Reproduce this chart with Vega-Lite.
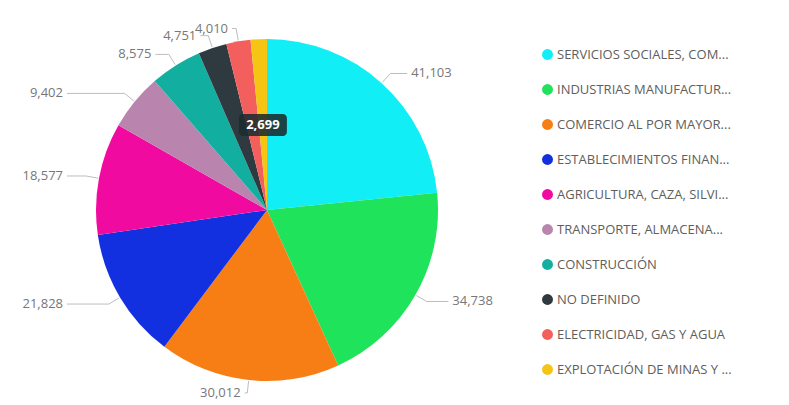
{
  "$schema": "https://vega.github.io/schema/vega-lite/v6.json",
  "width": 534,
  "height": 390,
  "padding": {"left": 0, "top": 15, "right": 255, "bottom": 0},
  "autosize": {"type": "none"},
  "background": "white",
  "config": {"view": {"stroke": null}},
  "data": {
    "values": [
      {"ord": 1, "cat": "SERVICIOS SOCIALES, COM...", "v": 41103},
      {"ord": 2, "cat": "INDUSTRIAS MANUFACTUR...", "v": 34738},
      {"ord": 3, "cat": "COMERCIO AL POR MAYOR...", "v": 30012},
      {"ord": 4, "cat": "ESTABLECIMIENTOS FINAN...", "v": 21828},
      {"ord": 5, "cat": "AGRICULTURA, CAZA, SILVI...", "v": 18577},
      {"ord": 6, "cat": "TRANSPORTE, ALMACENA...", "v": 9402},
      {"ord": 7, "cat": "CONSTRUCCIÓN", "v": 8575},
      {"ord": 8, "cat": "NO DEFINIDO", "v": 4751},
      {"ord": 9, "cat": "ELECTRICIDAD, GAS Y AGUA", "v": 4010},
      {"ord": 10, "cat": "EXPLOTACIÓN DE MINAS Y ...", "v": 2699}
    ]
  },
  "transform": [
    {"window": [{"op": "sum", "field": "v", "as": "cum"}], "sort": [{"field": "ord"}], "frame": [null, 0]},
    {"joinaggregate": [{"op": "sum", "field": "v", "as": "total"}]},
    {"calculate": "(datum.cum - datum.v / 2) / datum.total * 2 * PI", "as": "m"},
    {"calculate": "sin(datum.m)", "as": "s"},
    {"calculate": "cos(datum.m)", "as": "c"},
    {"calculate": "172 * datum.s", "as": "x1"},
    {"calculate": "172 * datum.c", "as": "y1"},
    {"calculate": "184 * datum.s", "as": "x2"},
    {"calculate": "184 * datum.c", "as": "y2"},
    {"calculate": "datum.s < -0.7 ? -200 : datum.x2 + 25 * datum.s", "as": "x3"},
    {"calculate": "datum.x3 + (datum.s > 0 ? 4 : -4)", "as": "xt"},
    {"calculate": "85 * datum.s", "as": "bx"},
    {"calculate": "85 * datum.c", "as": "by"},
    {"calculate": "datum.bx - 24", "as": "bx1"},
    {"calculate": "datum.bx + 24", "as": "bx2"},
    {"calculate": "datum.by - 11", "as": "by1"},
    {"calculate": "datum.by + 11", "as": "by2"}
  ],
  "layer": [
    {
      "mark": {"type": "arc", "radius": 171},
      "encoding": {
        "theta": {"field": "v", "type": "quantitative", "stack": true},
        "order": {"field": "ord", "type": "quantitative"},
        "color": {
          "field": "cat",
          "type": "nominal",
          "sort": {"field": "ord"},
          "scale": {
            "domain": ["SERVICIOS SOCIALES, COM...", "INDUSTRIAS MANUFACTUR...", "COMERCIO AL POR MAYOR...", "ESTABLECIMIENTOS FINAN...", "AGRICULTURA, CAZA, SILVI...", "TRANSPORTE, ALMACENA...", "CONSTRUCCIÓN", "NO DEFINIDO", "ELECTRICIDAD, GAS Y AGUA", "EXPLOTACIÓN DE MINAS Y ..."],
            "range": ["#12EEF5", "#1FE35A", "#F77E14", "#1230E0", "#F00A9F", "#B984AE", "#12AFA0", "#2E3A3F", "#F25F5C", "#F6C412"]
          },
          "legend": {
            "title": null,
            "orient": "none",
            "legendX": 541,
            "legendY": 33,
            "symbolType": "circle",
            "symbolSize": 120,
            "symbolStrokeWidth": 0,
            "symbolOpacity": 1,
            "labelFont": "Open Sans",
            "labelFontSize": 13,
            "labelColor": "#605E5C",
            "labelLimit": 300,
            "labelOffset": 3,
            "rowPadding": 21
          }
        }
      }
    },
    {
      "transform": [{"filter": "datum.ord < 10"}],
      "mark": {"type": "rule", "color": "#BDBDBD", "strokeWidth": 1},
      "encoding": {
        "x": {"field": "x1", "type": "quantitative", "scale": {"domain": [-267, 267], "nice": false, "zero": false}, "axis": null},
        "y": {"field": "y1", "type": "quantitative", "scale": {"domain": [-195, 195], "nice": false, "zero": false}, "axis": null},
        "x2": {"field": "x2"},
        "y2": {"field": "y2"}
      }
    },
    {
      "transform": [{"filter": "datum.ord < 10"}],
      "mark": {"type": "rule", "color": "#BDBDBD", "strokeWidth": 1},
      "encoding": {
        "x": {"field": "x2", "type": "quantitative"},
        "y": {"field": "y2", "type": "quantitative"},
        "x2": {"field": "x3"},
        "y2": {"field": "y2"}
      }
    },
    {
      "transform": [{"filter": "datum.ord < 10 && datum.s > 0"}],
      "mark": {"type": "text", "align": "left", "baseline": "middle", "font": "Open Sans", "fontSize": 13, "color": "#777777"},
      "encoding": {
        "x": {"field": "xt", "type": "quantitative"},
        "y": {"field": "y2", "type": "quantitative"},
        "text": {"field": "v", "type": "quantitative", "format": ","}
      }
    },
    {
      "transform": [{"filter": "datum.ord < 10 && datum.s <= 0"}],
      "mark": {"type": "text", "align": "right", "baseline": "middle", "font": "Open Sans", "fontSize": 13, "color": "#777777"},
      "encoding": {
        "x": {"field": "xt", "type": "quantitative"},
        "y": {"field": "y2", "type": "quantitative"},
        "text": {"field": "v", "type": "quantitative", "format": ","}
      }
    },
    {
      "transform": [{"filter": "datum.ord == 10"}],
      "mark": {"type": "rect", "color": "#1B2B2F", "opacity": 0.88, "cornerRadius": 4},
      "encoding": {
        "x": {"field": "bx1", "type": "quantitative"},
        "x2": {"field": "bx2"},
        "y": {"field": "by1", "type": "quantitative"},
        "y2": {"field": "by2"}
      }
    },
    {
      "transform": [{"filter": "datum.ord == 10"}],
      "mark": {"type": "text", "align": "center", "baseline": "middle", "font": "Open Sans", "fontSize": 13, "fontWeight": "bold", "color": "white"},
      "encoding": {
        "x": {"field": "bx", "type": "quantitative"},
        "y": {"field": "by", "type": "quantitative"},
        "text": {"field": "v", "type": "quantitative", "format": ","}
      }
    }
  ]
}
